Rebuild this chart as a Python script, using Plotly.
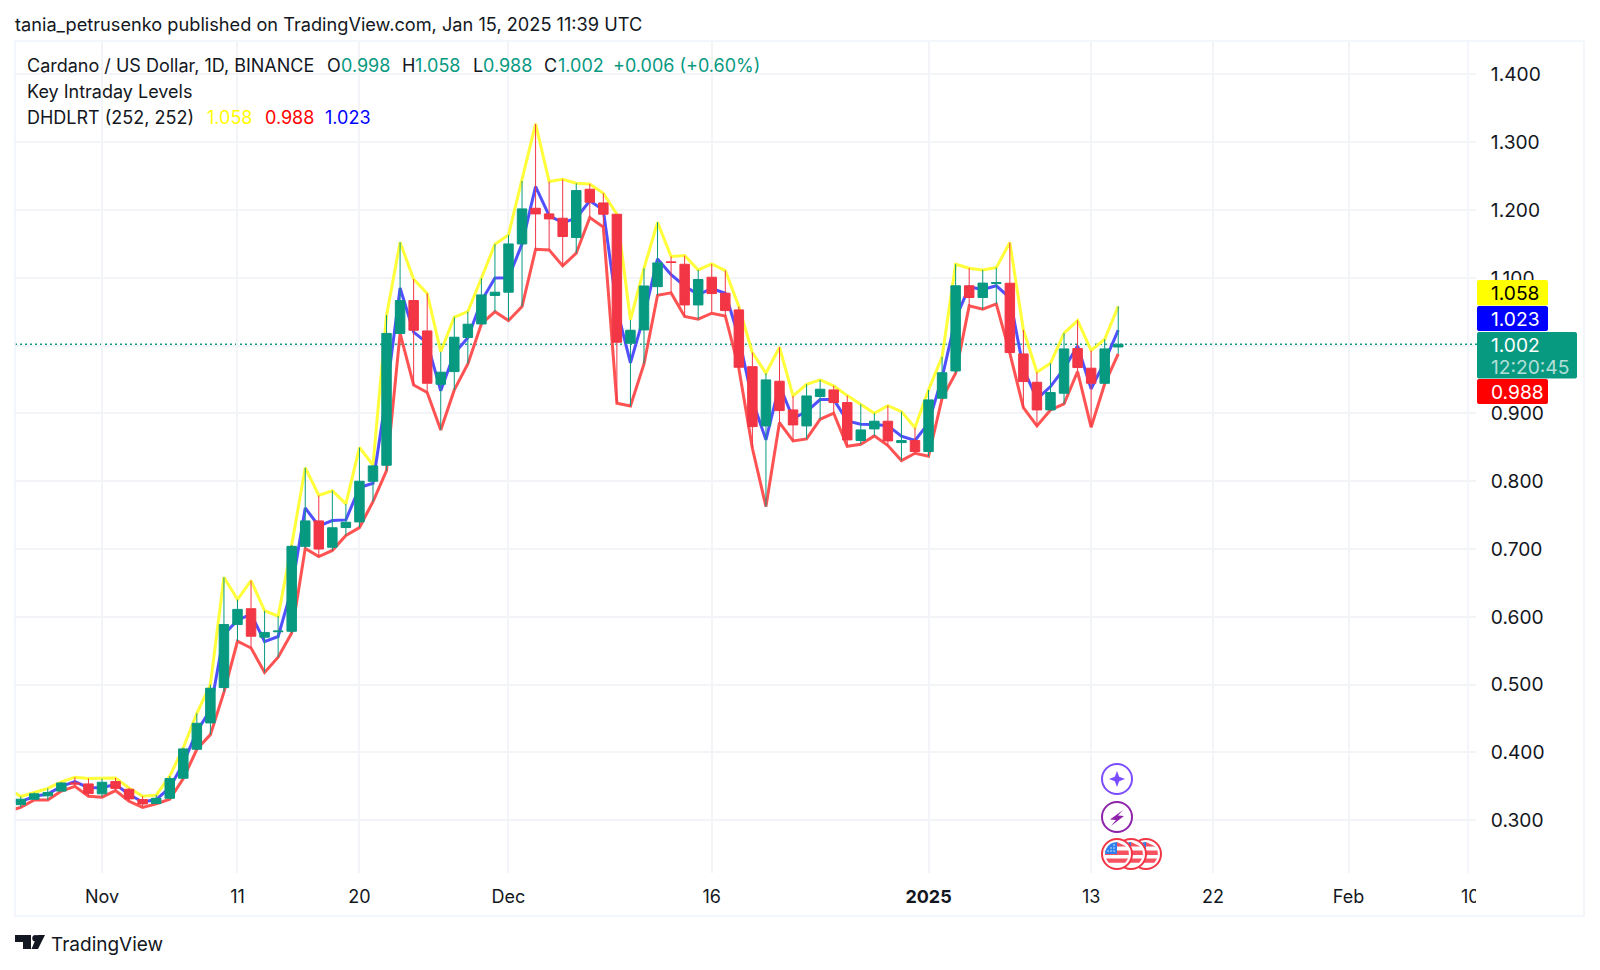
import math
import pandas as pd
import plotly.graph_objects as go

# ---------- data ----------
DATES = pd.date_range("2024-10-25", "2025-01-15", freq="D")
OPEN = [.345, .323, .331, .336, .343, .355, .3536, .339, .357, .3457, .3305, .3246, .3324, .362, .4047, .4436, .4957,
        .5886, .612, .570, .578, .5787, .704, .7415, .7026, .7317, .740, .800, .8236, 1.018, 1.0665, 1.0217, .943,
        .9617, 1.012, 1.032, 1.074, 1.0788, 1.15, 1.2026, 1.1943, 1.1879, 1.1594, 1.2307, 1.2105, 1.1938, 1.0035,
        1.0232, 1.087, 1.1236, 1.12, 1.06, 1.1009, 1.0773, 1.0527, .969, .8816, .9475, .9052, .8816, .9249, .9347,
        .916, .86, .8772, .8885, .857, .86, .8438, .9224, .9627, 1.0883, 1.071, 1.0917, 1.092, .9878, .946, .9052,
        .9298, .9957, .9667, .9445, .998]
HIGH = [.348, .335, .341, .347, .3565, .3635, .3615, .3615, .3624, .3477, .3354, .337, .365, .407, .4578, .500, .6584,
        .6255, .6535, .609, .601, .706, .820, .779, .786, .7666, .8497, .824, 1.045, 1.1525, 1.098, 1.077, .991,
        1.042, 1.0503, 1.0994, 1.1496, 1.1633, 1.243, 1.327, 1.242, 1.2454, 1.2395, 1.2385, 1.2248, 1.1938, 1.038,
        1.114, 1.182, 1.1314, 1.1328, 1.1116, 1.1205, 1.1107, 1.0576, .9898, .9593, .9976, .9258, .943, .9494, .9406,
        .9263, .9136, .9003, .9116, .9027, .8791, .9347, .9835, 1.1201, 1.1142, 1.1117, 1.1151, 1.152, 1.0232, .9608,
        .974, 1.0183, 1.037, .9929, 1.0094, 1.058]
LOW = [.313, .319, .330, .330, .343, .350, .3354, .334, .3438, .328, .319, .3241, .331, .3615, .4047, .4263, .489,
       .564, .554, .518, .5404, .5763, .701, .689, .698, .72, .7317, .770, .8157, 1.018, .942, .931, .8757,
       .9347, .973, 1.032, 1.05, 1.037, 1.0576, 1.142, 1.1412, 1.1176, 1.1363, 1.1889, 1.1748, .915, .911,
       .973, 1.0743, 1.0778, 1.043, 1.039, 1.0478, 1.0438, .9667, .8487, .7626, .8865, .8595, .8624, .8914, .9003,
       .8516, .8546, .8669, .8526, .8305, .8413, .8368, .9224, .9593, 1.0586, 1.0537, 1.0615, .9888, .9086, .8816,
       .9052, .914, .9618, .8796, .9436, .988]
CLOSE = [.323, .331, .339, .341, .355, .3535, .3393, .356, .347, .3315, .324, .3324, .3615, .4052, .443, .4947, .5886,
         .611, .5714, .577, .579, .704, .7415, .700, .7314, .7395, .800, .8226, 1.018, 1.0665, 1.0227, .9445, .9608,
         1.0124, 1.0316, 1.0748, 1.0788, 1.15, 1.2017, 1.1943, 1.1869, 1.1609, 1.2287, 1.2115, 1.1938, 1.005, 1.0227,
         1.088, 1.122, 1.1226, 1.06, 1.0975, 1.0768, 1.0517, .9681, .8806, .9495, .9042, .8831, .9258, .9357, .916,
         .861, .8757, .8885, .8595, .86, .8438, .92, .96, 1.0883, 1.071, 1.0922, 1.093, .9898, .947, .9052, .9308,
         .9952, .9677, .9445, .9952, 1.002]
MID = [.3305, .327, .3355, .3385, .350, .357, .348, .348, .353, .338, .327, .3305, .348, .384, .431, .463, .574,
       .595, .604, .5635, .571, .641, .7605, .734, .742, .743, .7907, .797, .930, 1.085, 1.020, 1.004, .9334,
       .9884, 1.0117, 1.0657, 1.0998, 1.100, 1.150, 1.2345, 1.1916, 1.1815, 1.188, 1.2137, 1.20, 1.0544, .9745,
       1.0435, 1.128, 1.1046, 1.088, 1.0753, 1.0842, 1.0772, 1.012, .9192, .861, .942, .8926, .9027, .9204, .9205,
       .889, .8841, .8836, .882, .8666, .8602, .8858, .953, 1.04, 1.0864, 1.0827, 1.0883, 1.0704, .9659, .9212,
       .9396, .9662, .9994, .9363, .9765, 1.023]

PRICE_TICKS = [0.3, 0.4, 0.5, 0.6, 0.7, 0.8, 0.9, 1.0, 1.1, 1.2, 1.3, 1.4]
TIME_TICKS = ["2024-11-01", "2024-11-11", "2024-11-20", "2024-12-01", "2024-12-16", "2025-01-01", "2025-01-13",
              "2025-01-22", "2025-02-01", "2025-02-09 19:00"]
TIME_LABELS = ["Nov", "11", "20", "Dec", "16", "<b>2025</b>", "13", "22", "Feb", "\u00a010"]
X_RANGE = ["2024-10-25 13:55", "2025-02-09 19:30"]
Y_RANGE = [0.2222, 1.4493]

# ---------- style ----------
GREEN, RED = "#089981", "#F23645"
TEXT = "#131722"
GRID = "#F3F4F7"
FRAME = "#F0F3FA"
FONT = "Inter"
LEGEND_SIZE = 18
PRICE_SIZE = 19.2
L, R, T, B = 15, 1468, 41, 873


def px(x):
    return (x - L) / (R - L)


def py(y):
    return (B - y) / (B - T)


def path(points, close=True):
    return "M" + " L".join(f"{px(x):.5f} {py(y):.5f}" for x, y in points) + (" Z" if close else "")


def shape_path(points, fill=None, color=None, width=0, close=True, layer="above"):
    return dict(type="path", xref="paper", yref="paper", path=path(points, close), fillcolor=fill or "rgba(0,0,0,0)",
                line=dict(color=color or "rgba(0,0,0,0)", width=width), layer=layer)


def rect(x0, y0, x1, y1, fill=None, color=None, width=0, layer="above"):
    return dict(type="rect", xref="paper", yref="paper", x0=px(x0), x1=px(x1), y0=py(y0), y1=py(y1),
                fillcolor=fill or "rgba(0,0,0,0)", line=dict(color=color or "rgba(0,0,0,0)", width=width), layer=layer)


def circle(cx, cy, r, fill=None, color=None, width=0):
    return dict(type="circle", xref="paper", yref="paper", x0=px(cx - r), x1=px(cx + r), y0=py(cy - r), y1=py(cy + r),
                fillcolor=fill or "rgba(0,0,0,0)", line=dict(color=color or "rgba(0,0,0,0)", width=width), layer="above")


def rrect(x0, y0, x1, y1, fill, r=2):
    pts = []
    for cx, cy, a0 in ((x1 - r, y0 + r, -90), (x1 - r, y1 - r, 0), (x0 + r, y1 - r, 90), (x0 + r, y0 + r, 180)):
        for k in range(4):
            a = math.radians(a0 + k * 30)
            pts.append((cx + r * math.cos(a), cy + r * math.sin(a)))
    return shape_path(pts, fill=fill)


def text(x, y, s, color=TEXT, size=LEGEND_SIZE, anchor="left", font=FONT):
    return dict(xref="paper", yref="paper", x=px(x), y=py(y), text=s, showarrow=False, xanchor=anchor, yanchor="middle",
                font=dict(color=color, size=size, family=font), borderpad=0, borderwidth=0)


def flag(cx, cy, r=15):
    out = [circle(cx, cy, r, fill="#FFFFFF", color="#F23645", width=2)]
    ri = r - 3
    for top, bot in ((-ri, -ri * .62), (-ri * .3, ri * .08), (ri * .38, ri * .72)):
        w0 = math.sqrt(max(ri * ri - top * top, 0))
        w1 = math.sqrt(max(ri * ri - bot * bot, 0))
        out.append(shape_path([(cx - w0, cy + top), (cx + w0, cy + top), (cx + w1, cy + bot), (cx - w1, cy + bot)],
                              fill="#F7525F"))
    return out


def canton(cx, cy, r=15):
    ri = r - 3
    pts = [(cx, cy - ri), (cx, cy), (cx - ri, cy)]
    for k in range(1, 6):
        a = math.radians(180 + k * 15)
        pts.append((cx + ri * math.cos(a), cy + ri * math.sin(a)))
    out = [shape_path(pts, fill="#2F80ED")]
    for dx in (-9, -6, -3):
        for dy in (-9, -6, -3):
            if dx * dx + dy * dy < 100:
                out.append(circle(cx + dx, cy + dy, 0.7, fill="#FFFFFF"))
    return out


# ---------- figure ----------
fig = go.Figure()
fig.add_trace(go.Scatter(x=DATES, y=HIGH, mode="lines", line=dict(color="#FFFF3A", width=3), hoverinfo="skip"))
fig.add_trace(go.Scatter(x=DATES, y=MID, mode="lines", line=dict(color="#5050FF", width=3), hoverinfo="skip"))
fig.add_trace(go.Scatter(x=DATES, y=LOW, mode="lines", line=dict(color="#FF5252", width=3), hoverinfo="skip"))
fig.add_trace(go.Candlestick(
    x=DATES, open=OPEN, high=HIGH, low=LOW, close=CLOSE, xaxis="x2", yaxis="y2",
    increasing=dict(line=dict(color=GREEN, width=1), fillcolor=GREEN),
    decreasing=dict(line=dict(color=RED, width=1), fillcolor=RED),
))

shapes = [
    dict(type="line", xref="paper", yref="y", x0=0, x1=px(1477), y0=CLOSE[-1], y1=CLOSE[-1],
         line=dict(color=GREEN, width=1.5, dash="2px,3px"), layer="between"),
    rect(15, 41, 1584, 916, color=FRAME, width=1.5),
    dict(type="line", xref="paper", yref="paper", x0=1, x1=1, y0=py(873), y1=py(41),
         line=dict(color=FRAME, width=1.5), layer="above"),
    rect(1476, 876, 1510, 908, fill="#FFFFFF"),
    # price labels
    rrect(1477, 280, 1548, 305.5, "#FFFF00"),
    rrect(1477, 306, 1548, 331, "#0000FF"),
    rrect(1477, 332, 1577, 378.5, GREEN),
    rrect(1477, 379, 1548, 404, "#FF0000"),
    # icons
    circle(1117, 779, 15, fill="#FFFFFF", color="#7C4DFF", width=2),
    shape_path([(1117, 771), (1119.2, 776.8), (1125, 779), (1119.2, 781.2), (1117, 787), (1114.8, 781.2), (1109, 779),
                (1114.8, 776.8)], fill="#7C4DFF"),
    circle(1117, 817, 15, fill="#FFFFFF", color="#8E24AA", width=2),
    shape_path([(1123, 810), (1110, 819.5), (1116, 820), (1111, 826), (1124, 816), (1118, 815.5)], fill="#8E24AA"),
    # TradingView logo
    shape_path([(15, 935), (31, 935), (31, 949), (23, 949), (23, 942), (15, 942)], fill=TEXT),
    circle(35.5, 938.2, 3.2, fill=TEXT),
    shape_path([(37.5, 935), (45, 935), (38, 949), (31.5, 949)], fill=TEXT),
]
for cx in (1146, 1131):
    shapes += flag(cx, 854)
    shapes += canton(cx, 854)
shapes += flag(1117, 854) + canton(1117, 854)

annotations = [
    text(15, 24, "tania_petrusenko published on TradingView.com, Jan 15, 2025 11:39 UTC", size=18.2),
    text(27, 65, "Cardano / US Dollar, 1D, BINANCE"),
    text(327, 65, "O"), text(341, 65, "0.998", GREEN),
    text(402, 65, "H"), text(415, 65, "1.058", GREEN),
    text(473, 65, "L"), text(483, 65, "0.988", GREEN),
    text(544, 65, "C"), text(558, 65, "1.002", GREEN),
    text(613, 65, "+0.006 (+0.60%)", GREEN),
    text(27, 91, "Key Intraday Levels"),
    text(27, 117, "DHDLRT (252, 252)"),
    text(207, 117, "1.058", "#FFFF00"), text(265, 117, "0.988", "#FF0000"), text(325, 117, "1.023", "#0000FF"),
    text(1491, 293, "1.058", "#000000", PRICE_SIZE), text(1491, 319, "1.023", "#FFFFFF", PRICE_SIZE),
    text(1491, 345, "1.002", "#FFFFFF", PRICE_SIZE), text(1491, 367, "12:20:45", "rgba(255,255,255,0.7)", PRICE_SIZE),
    text(1491, 392, "0.988", "#FFFFFF", PRICE_SIZE),
    text(51, 944, "TradingView", size=19),
]

fig.update_layout(
    width=1600, height=970, autosize=False, showlegend=False,
    margin=dict(l=L, r=1600 - R, t=T, b=970 - B),
    paper_bgcolor="#FFFFFF", plot_bgcolor="#FFFFFF",
    font=dict(family=FONT, color=TEXT),
    boxgap=0.3, boxgroupgap=0,
    xaxis=dict(type="date", range=X_RANGE, tickmode="array", tickvals=TIME_TICKS, ticktext=TIME_LABELS,
               showgrid=True, gridcolor=GRID, gridwidth=1.5, zeroline=False, showline=False, ticks="",
               tickfont=dict(size=18, color=TEXT, family=FONT), ticklabelstandoff=11, tickangle=0,
               rangeslider=dict(visible=False), fixedrange=True),
    yaxis=dict(range=Y_RANGE, side="right", tickmode="array", tickvals=PRICE_TICKS, tickformat=".3f",
               showgrid=True, gridcolor=GRID, gridwidth=1.5, zeroline=False, showline=False,
               ticks="outside", ticklen=7, tickcolor=GRID, tickwidth=1.5,
               tickfont=dict(size=PRICE_SIZE, color=TEXT, family=FONT), ticklabelstandoff=11, fixedrange=True),
    xaxis2=dict(type="date", range=X_RANGE, overlaying="x", visible=False, rangeslider=dict(visible=False), fixedrange=True),
    yaxis2=dict(range=Y_RANGE, overlaying="y", side="right", visible=False, fixedrange=True),
    shapes=shapes, annotations=annotations,
)

fig.write_html("out.html", config=dict(displayModeBar=False),
               post_script="document.body.style.margin='0';document.body.style.overflow='hidden';")
